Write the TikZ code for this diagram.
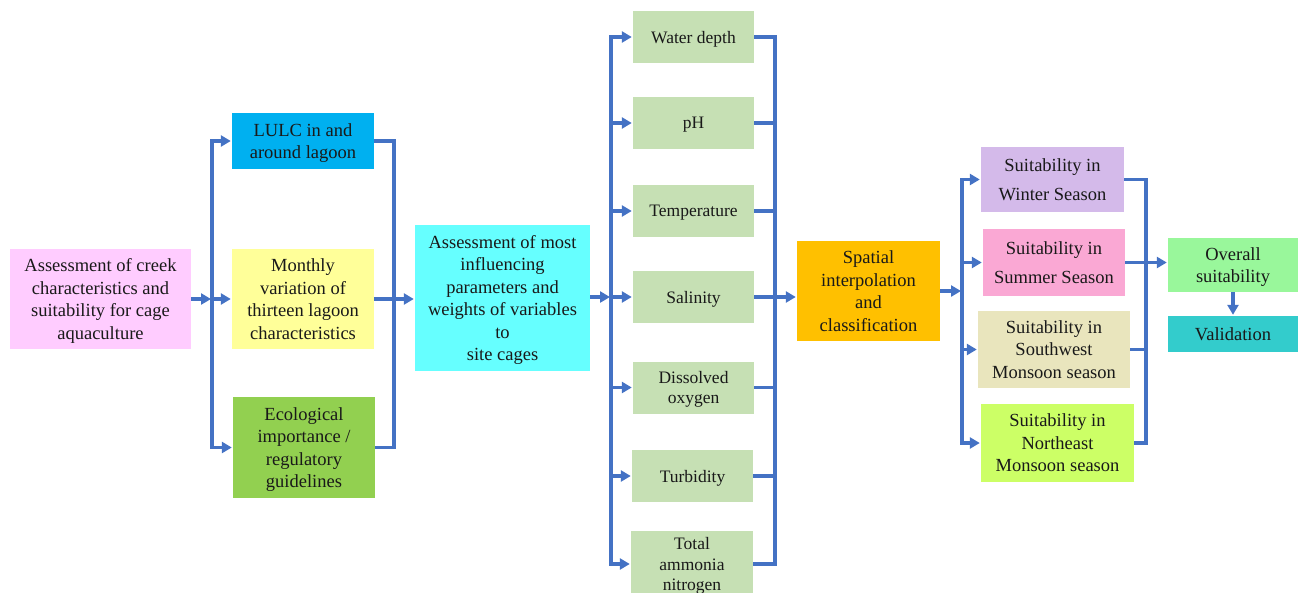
\documentclass[tikz,border=0pt]{standalone}
\usepackage{fontspec}
\setmainfont{Liberation Serif}
\usetikzlibrary{arrows.meta}
\definecolor{cpink}{HTML}{FFCCFF}
\definecolor{clulc}{HTML}{00B0F0}
\definecolor{cmonth}{HTML}{FFFF99}
\definecolor{ceco}{HTML}{92D050}
\definecolor{ccyan}{HTML}{66FFFF}
\definecolor{cparam}{HTML}{C6E0B4}
\definecolor{cspat}{HTML}{FFC000}
\definecolor{cwin}{HTML}{D4BAEA}
\definecolor{csum}{HTML}{FAA8D4}
\definecolor{csw}{HTML}{E9E5BD}
\definecolor{cne}{HTML}{CCFF66}
\definecolor{cover}{HTML}{99F79B}
\definecolor{cval}{HTML}{33CCCC}
\definecolor{cline}{HTML}{4472C4}
\tikzset{
  box/.style={rectangle, inner sep=0pt, align=center, text=black!90, text depth=0pt,
    font=\fontsize{18.5}{22.5}\selectfont},
  pbox/.style={box, fill=cparam, minimum width=121pt, minimum height=52pt,
    font=\fontsize{17.5}{20.5}\selectfont},
  ln/.style={draw=cline, line width=3.5pt},
  arr/.style={ln, -{Triangle[length=10pt,width=11pt]}, shorten >=1pt},
}
\begin{document}
\begin{tikzpicture}[x=1pt,y=-1pt]
\useasboundingbox (0,0) rectangle (1298,592);
% column 1
\node[box, fill=cpink, minimum width=181pt, minimum height=100pt] (A) at (100.5,299)
  {Assessment of creek\\characteristics and\\suitability for cage\\aquaculture};
% column 2
\node[box, fill=clulc, minimum width=142pt, minimum height=56pt] (L) at (303,141)
  {LULC in and\\around lagoon};
\node[box, fill=cmonth, minimum width=142pt, minimum height=100pt] (M) at (303,299)
  {Monthly\\variation of\\thirteen lagoon\\characteristics};
\node[box, fill=ceco, minimum width=142pt, minimum height=101pt] (E) at (304,447.5)
  {Ecological\\importance /\\regulatory\\guidelines};
% column 3
\node[box, fill=ccyan, minimum width=175pt, minimum height=146pt] (C) at (502.5,298)
  {Assessment of most\\influencing\\parameters and\\weights of variables\\to\\site cages};
% column 4
\node[pbox] (WD) at (693.5,37) {Water depth};
\node[pbox] (PH) at (693.5,123) {pH};
\node[pbox] (TE) at (693.5,211) {Temperature};
\node[pbox] (SA) at (693.5,297) {Salinity};
\node[pbox] (DO) at (693.5,387.5) {Dissolved\\oxygen};
\node[pbox] (TU) at (692.5,476) {Turbidity};
\node[pbox, minimum width=122pt, minimum height=66pt] (TA) at (692,564) {Total\\ammonia\\nitrogen};
% column 5
\node[box, fill=cspat, minimum width=143pt, minimum height=100pt] (S) at (868.5,291)
  {Spatial\\interpolation\\and\\classification};
% column 6
\node[box, fill=cwin, minimum width=143pt, minimum height=65pt,
  font=\fontsize{18.5}{29}\selectfont] (W) at (1052.5,179.5)
  {Suitability in\\Winter Season};
\node[box, fill=csum, minimum width=142pt, minimum height=67pt,
  font=\fontsize{18.5}{29}\selectfont] (SU) at (1054,262.5)
  {Suitability in\\Summer Season};
\node[box, fill=csw, minimum width=152pt, minimum height=77pt] (SW) at (1054,349.5)
  {Suitability in\\Southwest\\Monsoon season};
\node[box, fill=cne, minimum width=153pt, minimum height=78pt] (NE) at (1057.5,443)
  {Suitability in\\Northeast\\Monsoon season};
% column 7
\node[box, fill=cover, minimum width=130pt, minimum height=54pt] (O) at (1233,265)
  {Overall\\suitability};
\node[box, fill=cval, minimum width=130pt, minimum height=36pt] (V) at (1233,334)
  {Validation};
% bus coordinates
\coordinate (b1) at (212,0);
\coordinate (b2) at (394,0);
\coordinate (b3) at (611,0);
\coordinate (b4) at (775,0);
\coordinate (b5) at (962,0);
\coordinate (b6) at (1146,0);
% connectors group 1
\draw[arr] (A.east) -- (b1 |- A.east);
\draw[arr] (b1 |- M.west) |- (L.west);
\draw[arr] (b1 |- M.west) |- (E.west);
\draw[arr] (b1 |- M.west) -- (M.west);
\draw[ln] (L.east) -| (b2 |- M.east);
\draw[ln] (E.east) -| (b2 |- M.east);
\draw[arr] (M.east) -- (C.west |- M.east);
% connectors group 2
\draw[arr] (C.east |- SA.west) -- (b3 |- SA.west);
\draw[arr] (b3 |- SA.west) |- (WD.west);
\draw[arr] (b3 |- SA.west) |- (TA.west);
\foreach \n in {PH,TE,SA,DO,TU} \draw[arr] (b3 |- \n.west) -- (\n.west);
\draw[ln] (WD.east) -| (b4 |- SA.east);
\draw[ln] (TA.east) -| (b4 |- SA.east);
\foreach \n in {PH,TE,DO,TU} \draw[ln] (\n.east) -- (b4 |- \n.east);
\draw[arr] (SA.east) -- (S.west |- SA.east);
% connectors group 3
\draw[arr] (S.east) -- (b5 |- S.east);
\draw[arr] (b5 |- S.east) |- (W.west);
\draw[arr] (b5 |- S.east) |- (NE.west);
\draw[arr] (b5 |- SU.west) -- (SU.west);
\draw[arr] (b5 |- SW.west) -- (SW.west);
\draw[ln] (W.east) -| (b6 |- SU.east);
\draw[ln] (NE.east) -| (b6 |- SU.east);
\draw[ln] (SW.east) -- (b6 |- SW.east);
\draw[arr] (SU.east) -- (O.west |- SU.east);
\draw[arr] (O.south) -- (V.north);
\end{tikzpicture}
\end{document}
